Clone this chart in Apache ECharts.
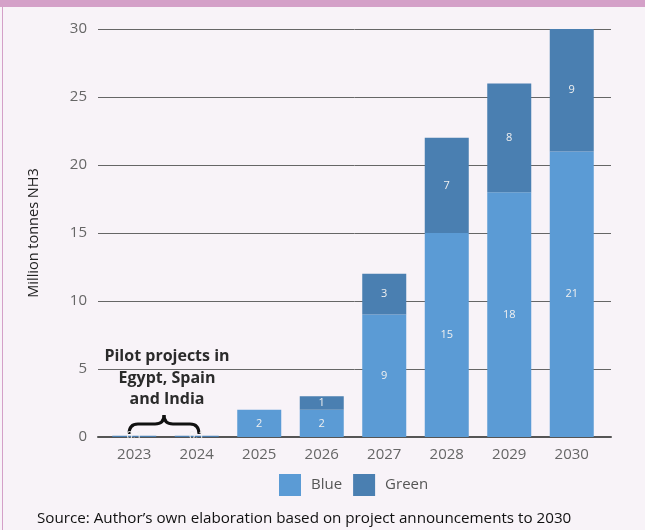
<!DOCTYPE html>
<html><head><meta charset="utf-8">
<script src="https://cdn.jsdelivr.net/npm/echarts@6/dist/echarts.min.js"></script>
<style>html,body{margin:0;padding:0;background:#f8f3f8;}#c{width:645px;height:530px;}</style>
</head><body><div id="c"></div>
<script>
const categories = ['2023','2024','2025','2026','2027','2028','2029','2030'];
const blueValues = [0, 0, 2, 2, 9, 15, 18, 21];
const greenValues = [0.1, 0.1, 0, 1, 3, 7, 8, 9];
const yTicks = [0, 5, 10, 15, 20, 25, 30];
const annotation = 'Pilot projects in\nEgypt, Spain\nand India';
const sourceText = 'Source: Author\u2019s own elaboration based on project announcements to 2030';

const FONT = 'Open Sans';
const chart = echarts.init(document.getElementById('c'), null, {renderer:'canvas'});
const lbl = {show:true, position:'inside', color:'#f0f0f0', fontSize:11, fontFamily:FONT,
  formatter: p => p.value > 0 ? String(p.value) : ''};
const braceStyle = {stroke:'#111', lineWidth:3, fill:null};
function q(x1,y1,cx,cy,x2,y2){
  return {type:'bezierCurve', shape:{x1:x1,y1:y1,x2:x2,y2:y2,cpx1:cx,cpy1:cy}, style:braceStyle, silent:true};
}
function ln(x1,y1,x2,y2){
  return {type:'line', shape:{x1:x1,y1:y1,x2:x2,y2:y2}, style:braceStyle, silent:true};
}
chart.setOption({
  backgroundColor:'#f8f3f8',
  animation:false,
  textStyle:{fontFamily:FONT},
  title:{text:sourceText, left:32, top:506, textStyle:{fontSize:15.2, fontWeight:'normal', color:'#111', fontFamily:FONT}},
  grid:[
    {left:98, right:34, top:29, bottom:93},
    {left:103, right:42, top:29, bottom:93}
  ],
  legend:{top:469, left:274, itemWidth:22, itemHeight:22, itemGap:11,
    textStyle:{fontSize:15, color:'#555', fontFamily:FONT, padding:[0,0,0,5]}, icon:'rect',
    data:['Blue','Green']},
  xAxis:[
    {type:'category', gridIndex:0, data:categories,
      axisLine:{lineStyle:{color:'#555', width:2}}, axisTick:{show:false}, axisLabel:{show:false}},
    {type:'category', gridIndex:1, data:categories,
      axisLine:{show:false}, axisTick:{show:false},
      axisLabel:{fontSize:15, color:'#666', margin:10, fontFamily:FONT}}
  ],
  yAxis:[
    {type:'value', gridIndex:0, min:0, max:30, interval:5,
      name:'Million tonnes NH3', nameLocation:'middle', nameGap:57,
      nameTextStyle:{fontSize:14.5, color:'#222', fontFamily:FONT},
      axisLine:{show:false}, axisTick:{show:false},
      axisLabel:{fontSize:15, color:'#666', margin:11, fontFamily:FONT,
        formatter: v => yTicks.includes(v) ? String(v) : ''},
      splitLine:{lineStyle:{color:'#666', width:1}}},
    {type:'value', gridIndex:1, min:0, max:30, interval:5, show:false, splitLine:{show:false}}
  ],
  series:[
    {name:'Blue', type:'bar', stack:'t', xAxisIndex:1, yAxisIndex:1, data:blueValues, barWidth:44, itemStyle:{color:'#5b9bd5'}, label:lbl},
    {name:'Green', type:'bar', stack:'t', xAxisIndex:1, yAxisIndex:1, data:greenValues, barWidth:44, itemStyle:{color:'#4a7fb1'}, label:lbl}
  ],
  graphic:[
    {type:'rect', shape:{x:0,y:0,width:645,height:7}, style:{fill:'#d4a0c8'}, silent:true},
    {type:'rect', shape:{x:2,y:7,width:1,height:523}, style:{fill:'#d4a0c8'}, silent:true},
    {type:'text', x:167, y:346, style:{text:annotation, align:'center', fontSize:16, fontWeight:'bold', fill:'#2b2b2b', fontFamily:FONT, lineHeight:21.5}, silent:true},
    q(129,434,129,424,138,424), ln(138,424,155,424), q(155,424,164,424,164,415),
    q(164,415,164,424,173,424), ln(173,424,190,424), q(190,424,199,424,199,434)
  ]
});
</script></body></html>
